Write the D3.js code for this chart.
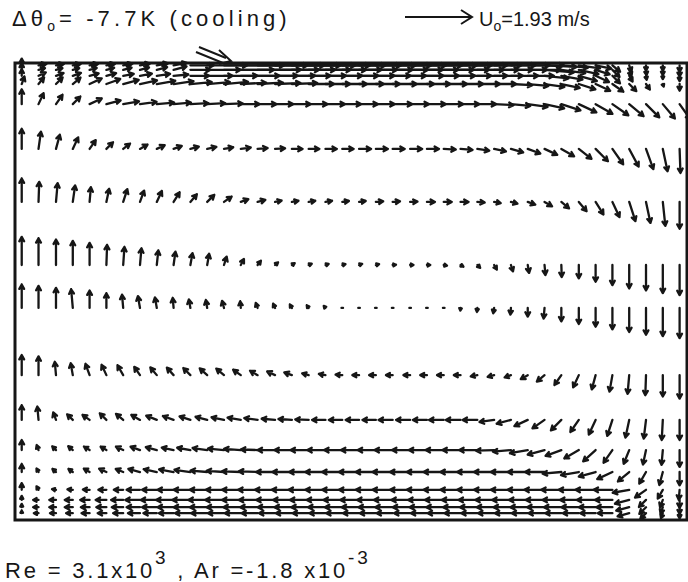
<!DOCTYPE html>
<html><head><meta charset="utf-8">
<script src="https://cdn.jsdelivr.net/npm/d3@7"></script>
<style>body{margin:0;background:#fff}svg{display:block}</style>
</head><body>
<svg id="c" width="688" height="582"></svg>
<script>
// ---- data (room coordinates: x/L from left wall, y/H from floor) ----
const U0 = 1.93; // m/s, reference arrow
const xNodes = [0.010,0.035,0.061,0.086,0.111,0.136,0.161,0.186,0.211,0.236,0.261,0.286,0.311,0.336,0.361,0.387,0.412,0.437,0.462,0.487,0.512,0.537,0.562,0.588,0.613,0.638,0.663,0.688,0.713,0.738,0.763,0.788,0.813,0.839,0.864,0.889,0.914,0.939,0.964,0.989];
const yNodes = [0.995,0.985,0.972,0.954,0.910,0.812,0.696,0.558,0.464,0.317,0.219,0.153,0.105,0.066,0.044,0.028,0.015];

// speed as fraction of U0, direction in degrees (0 = right, 90 = up)
const speed0 = [0.10,0.12,0.12,0.12,0.13,0.13,0.14,0.15,0.17,0.20,0.35,0.60,0.90,1.00,1.00,0.98,0.95,0.92,0.90,0.88,0.85,0.83,0.80,0.78,0.75,0.72,0.70,0.66,0.62,0.58,0.54,0.48,0.40,0.32,0.24,0.15,0.10,0.08,0.08,0.10];
const dir0   = [90,10,10,10,10,10,10,10,10,10,0,0,0,0,0,0,0,0,0,0,0,0,0,0,0,0,0,0,0,0,0,-3,-5,-8,-12,-40,-70,-90,-90,-90];
const speed1 = [0.10,0.10,0.10,0.10,0.11,0.12,0.13,0.14,0.16,0.20,0.30,0.50,0.75,0.90,0.92,0.90,0.88,0.86,0.84,0.82,0.80,0.78,0.75,0.72,0.70,0.68,0.65,0.62,0.58,0.54,0.50,0.44,0.36,0.30,0.22,0.15,0.10,0.08,0.08,0.10];
const dir1   = [90,15,15,15,15,15,15,15,15,15,0,0,0,0,0,0,0,0,0,0,0,0,0,0,0,0,0,0,0,0,0,-5,-8,-12,-18,-45,-70,-85,-90,-90];
const speed2 = [0.10,0.12,0.12,0.13,0.14,0.15,0.16,0.18,0.20,0.22,0.28,0.38,0.50,0.58,0.60,0.60,0.58,0.56,0.55,0.54,0.53,0.52,0.50,0.50,0.48,0.47,0.46,0.45,0.43,0.41,0.39,0.36,0.32,0.28,0.22,0.16,0.10,0.06,0.05,0.08];
const dir2   = [90,25,20,20,15,15,10,10,8,5,0,0,0,0,0,0,0,0,0,0,0,0,0,0,0,0,0,0,0,0,0,-6,-10,-16,-25,-45,-60,-80,-90,-90];
const speed3 = [0.12,0.13,0.14,0.15,0.20,0.22,0.24,0.26,0.28,0.30,0.32,0.34,0.36,0.38,0.38,0.38,0.38,0.38,0.37,0.37,0.37,0.36,0.36,0.36,0.35,0.35,0.34,0.34,0.33,0.32,0.31,0.30,0.28,0.26,0.24,0.20,0.15,0.10,0.04,0.10];
const dir3   = [70,50,45,40,25,20,15,12,10,8,5,5,5,3,3,2,2,0,0,0,0,0,0,0,0,0,0,0,0,-3,-5,-8,-12,-18,-25,-35,-45,-55,-70,-90];
const speed4 = [0.22,0.18,0.17,0.16,0.20,0.22,0.24,0.25,0.26,0.26,0.27,0.27,0.28,0.28,0.28,0.27,0.28,0.28,0.29,0.28,0.28,0.28,0.29,0.28,0.28,0.29,0.28,0.28,0.29,0.29,0.30,0.30,0.30,0.29,0.29,0.29,0.28,0.28,0.28,0.28];
const dir4   = [90,65,55,45,25,15,10,8,5,5,3,3,2,0,0,0,0,0,0,0,0,0,0,0,0,0,0,0,-3,-5,-8,-12,-18,-25,-30,-35,-40,-45,-50,-55];
const speed5 = [0.30,0.26,0.22,0.19,0.16,0.14,0.13,0.13,0.13,0.13,0.13,0.14,0.14,0.15,0.15,0.15,0.16,0.16,0.17,0.17,0.18,0.18,0.18,0.18,0.18,0.18,0.18,0.18,0.18,0.19,0.20,0.21,0.22,0.24,0.26,0.28,0.30,0.32,0.34,0.36];
const dir5   = [90,82,75,65,55,45,38,30,25,20,15,12,10,8,5,3,0,0,0,0,0,0,0,0,0,-3,-5,-8,-12,-16,-20,-25,-30,-38,-45,-55,-62,-70,-78,-88];
const speed6 = [0.35,0.30,0.28,0.25,0.22,0.20,0.20,0.18,0.18,0.17,0.15,0.15,0.14,0.12,0.12,0.10,0.10,0.10,0.10,0.10,0.10,0.11,0.11,0.11,0.12,0.12,0.12,0.11,0.10,0.10,0.12,0.13,0.15,0.18,0.22,0.25,0.30,0.32,0.36,0.40];
const dir6   = [90,88,85,82,85,78,72,70,65,58,50,45,35,20,15,12,10,10,10,8,8,5,5,3,0,0,0,-5,-10,-15,-20,-30,-40,-50,-58,-65,-72,-78,-84,-90];
const speed7 = [0.42,0.40,0.38,0.36,0.33,0.30,0.27,0.25,0.22,0.20,0.18,0.17,0.13,0.10,0.08,0.06,0.05,0.05,0.05,0.05,0.05,0.05,0.05,0.05,0.05,0.05,0.05,0.06,0.08,0.10,0.12,0.15,0.18,0.20,0.25,0.30,0.35,0.38,0.42,0.45];
const dir7   = [90,90,90,90,90,88,86,85,84,82,80,80,72,62,52,42,32,22,18,15,20,15,5,0,0,-10,-30,-45,-60,-72,-80,-85,-88,-90,-90,-90,-90,-90,-90,-90];
const speed8 = [0.35,0.33,0.30,0.28,0.26,0.22,0.20,0.18,0.16,0.15,0.13,0.12,0.11,0.10,0.08,0.07,0.06,0.05,0.04,0.03,0.02,0.02,0.02,0.02,0.02,0.03,0.04,0.06,0.08,0.10,0.13,0.16,0.20,0.24,0.28,0.32,0.36,0.40,0.42,0.45];
const dir8   = [90,90,90,95,90,90,95,100,100,95,100,100,105,95,110,115,120,125,130,140,180,0,0,0,180,-100,-95,-95,-100,-95,-90,-95,-90,-90,-90,-90,-90,-90,-90,-90];
const speed9 = [0.30,0.28,0.20,0.18,0.18,0.17,0.17,0.15,0.15,0.15,0.15,0.15,0.15,0.14,0.13,0.13,0.12,0.10,0.10,0.10,0.10,0.10,0.10,0.10,0.10,0.10,0.10,0.10,0.10,0.10,0.12,0.15,0.18,0.20,0.22,0.25,0.28,0.30,0.32,0.35];
const dir9   = [90,90,95,100,110,115,120,125,130,132,135,138,140,145,150,155,160,165,170,175,180,180,180,180,180,180,180,190,195,200,210,220,235,245,255,260,265,268,270,270];
const speed10 = [0.22,0.20,0.12,0.12,0.13,0.14,0.14,0.15,0.17,0.17,0.17,0.18,0.19,0.20,0.20,0.20,0.20,0.20,0.20,0.20,0.20,0.20,0.21,0.21,0.21,0.22,0.22,0.22,0.22,0.22,0.22,0.22,0.22,0.22,0.24,0.25,0.27,0.28,0.30,0.30];
const dir10   = [90,95,110,135,145,135,140,150,158,160,162,165,168,170,172,175,176,178,180,180,180,180,180,180,180,180,180,180,188,195,205,215,225,235,245,252,258,263,267,270];
const speed11 = [0.15,0.08,0.08,0.09,0.10,0.10,0.12,0.15,0.17,0.18,0.20,0.22,0.24,0.25,0.25,0.26,0.26,0.27,0.27,0.27,0.27,0.27,0.27,0.27,0.27,0.27,0.27,0.27,0.27,0.27,0.27,0.26,0.25,0.25,0.25,0.23,0.22,0.22,0.22,0.25];
const dir11   = [90,110,135,140,148,150,155,160,165,168,170,172,175,176,178,180,180,180,180,180,180,180,180,180,180,180,180,180,182,185,190,195,200,210,222,235,248,258,265,270];
const speed12 = [0.12,0.06,0.07,0.08,0.10,0.12,0.12,0.18,0.20,0.22,0.24,0.25,0.26,0.28,0.28,0.28,0.29,0.29,0.30,0.30,0.30,0.30,0.30,0.30,0.30,0.30,0.30,0.30,0.30,0.30,0.30,0.29,0.28,0.27,0.26,0.25,0.22,0.20,0.20,0.20];
const dir12   = [90,120,140,145,150,155,158,165,168,170,172,175,176,178,178,180,180,180,180,180,180,180,180,180,180,180,180,180,180,180,180,180,185,190,195,205,220,240,255,270];
const speed13 = [0.10,0.06,0.06,0.08,0.10,0.12,0.14,0.20,0.22,0.24,0.25,0.26,0.27,0.28,0.29,0.30,0.30,0.30,0.30,0.30,0.30,0.30,0.30,0.30,0.30,0.30,0.30,0.30,0.30,0.30,0.30,0.30,0.30,0.30,0.30,0.28,0.25,0.20,0.15,0.15];
const dir13   = [90,120,170,175,178,180,180,180,180,180,180,180,180,180,180,180,180,180,180,180,180,180,180,180,180,180,180,180,180,180,180,180,180,180,180,180,190,215,240,265];
const speed14 = [0.06,0.08,0.10,0.12,0.14,0.16,0.18,0.22,0.24,0.26,0.27,0.28,0.28,0.28,0.28,0.28,0.28,0.28,0.28,0.28,0.28,0.28,0.28,0.28,0.28,0.28,0.28,0.28,0.28,0.28,0.28,0.28,0.28,0.28,0.28,0.26,0.22,0.15,0.12,0.12];
const dir14   = [90,180,180,180,180,180,180,180,180,180,180,180,180,180,180,180,180,180,180,180,180,180,180,180,180,180,180,180,180,180,180,180,180,180,180,180,195,225,250,270];
const speed15 = [0.05,0.08,0.10,0.12,0.13,0.15,0.17,0.20,0.22,0.24,0.25,0.26,0.26,0.26,0.26,0.26,0.26,0.26,0.26,0.26,0.26,0.26,0.26,0.26,0.26,0.26,0.26,0.26,0.26,0.26,0.26,0.26,0.26,0.26,0.25,0.24,0.20,0.14,0.10,0.10];
const dir15   = [90,180,180,180,180,180,180,180,180,180,180,180,180,180,180,180,180,180,180,180,180,180,180,180,180,180,180,180,180,180,180,180,180,180,180,180,195,225,250,270];
const speed16 = [0.04,0.07,0.09,0.10,0.12,0.13,0.15,0.18,0.20,0.22,0.23,0.24,0.24,0.24,0.24,0.24,0.24,0.24,0.24,0.24,0.24,0.24,0.24,0.24,0.24,0.24,0.24,0.24,0.24,0.24,0.24,0.24,0.24,0.24,0.23,0.22,0.18,0.12,0.08,0.08];
const dir16   = [90,180,180,180,180,180,180,180,180,180,180,180,180,180,180,180,180,180,180,180,180,180,180,180,180,180,180,180,180,180,180,180,180,180,180,180,195,225,250,270];

const speedRows = [speed0,speed1,speed2,speed3,speed4,speed5,speed6,speed7,speed8,speed9,speed10,speed11,speed12,speed13,speed14,speed15,speed16];
const dirRows = [dir0,dir1,dir2,dir3,dir4,dir5,dir6,dir7,dir8,dir9,dir10,dir11,dir12,dir13,dir14,dir15,dir16];

// ---- drawing ----
const svg = d3.select("#c");
const ink = "#161616";
const box = {left: 15, right: 687, top: 63, bottom: 520};
const x = d3.scaleLinear().domain([0, 1]).range([box.left, box.right]);
const y = d3.scaleLinear().domain([0, 1]).range([box.bottom, box.top]);
const len = d3.scaleLinear().domain([0, 1]).range([0, 67]); // speed / U0 -> px

function arrowPath(x0, y0, s, deg) {
  const L = len(s);
  const a = deg * Math.PI / 180;
  const dx = Math.cos(a), dy = -Math.sin(a);
  const x1 = x0 + L * dx, y1 = y0 + L * dy;
  if (L < 2.5) return `M${x0-0.8},${y0}L${x0+0.8},${y0}`;
  const h = Math.min(5, 0.45 * L + 1.5), w = 0.5;
  const bx1 = x1 - h * (dx * Math.cos(w) - dy * Math.sin(w));
  const by1 = y1 - h * (dy * Math.cos(w) + dx * Math.sin(w));
  const bx2 = x1 - h * (dx * Math.cos(-w) - dy * Math.sin(-w));
  const by2 = y1 - h * (dy * Math.cos(-w) + dx * Math.sin(-w));
  return `M${x0},${y0}L${x1},${y1}M${bx1},${by1}L${x1},${y1}L${bx2},${by2}`;
}

const vectors = [];
yNodes.forEach((yv, r) => {
  xNodes.forEach((xv, c) => {
    vectors.push({x: xv, y: yv, s: speedRows[r][c], d: dirRows[r][c]});
  });
});

svg.append("g").selectAll("path").data(vectors).join("path")
  .attr("d", v => arrowPath(x(v.x), y(v.y), v.s, v.d))
  .attr("fill", "none").attr("stroke", ink).attr("stroke-width", 2.3)
  .attr("stroke-linecap", "round").attr("stroke-linejoin", "round");

// room frame
svg.append("rect").attr("x", box.left).attr("y", box.top)
  .attr("width", box.right - box.left).attr("height", box.bottom - box.top)
  .attr("fill", "none").attr("stroke", ink).attr("stroke-width", 3);

// inlet marker (double-line arrow into the room)
const inlet = svg.append("g").attr("stroke", ink).attr("stroke-width", 2).attr("fill", "none");
inlet.append("path").attr("d", "M199,47L226,58M196,52L223,63");
inlet.append("path").attr("d", "M219,50L231,61L219,64");

// title
const font = "'Liberation Sans', Arial, sans-serif";
const t = svg.append("text").attr("x", 12).attr("y", 26).attr("font-family", font)
  .attr("font-size", 22).attr("letter-spacing", 4.1).attr("fill", ink);
t.append("tspan").text("Δθ");
t.append("tspan").attr("font-size", 14).attr("dy", 5).text("o");
t.append("tspan").attr("dy", -5).text("= -7.7K (cooling)");

// legend arrow for U0
const lx = 405, ly = 17;
svg.append("path").attr("d", `M${lx},${ly}L${lx + len(1)},${ly}M${lx + len(1) - 11},${ly - 7}L${lx + len(1)},${ly}L${lx + len(1) - 11},${ly + 7}`)
  .attr("stroke", ink).attr("stroke-width", 2).attr("fill", "none");
const lt = svg.append("text").attr("x", lx + len(1) + 7).attr("y", 26).attr("font-family", font)
  .attr("font-size", 20).attr("letter-spacing", 0).attr("fill", ink);
lt.append("tspan").text("U");
lt.append("tspan").attr("font-size", 14).attr("dy", 5).text("o");
lt.append("tspan").attr("dy", -5).text("=1.93 m/s");

// parameters
const p = svg.append("text").attr("x", 5).attr("y", 578).attr("font-family", font)
  .attr("font-size", 22).attr("letter-spacing", 2.8).attr("fill", ink);
p.append("tspan").text("Re = 3.1x10");
p.append("tspan").attr("font-size", 19).attr("dy", -14).text("3");
p.append("tspan").attr("dy", 14).text(" ,  Ar =-1.8 x10");
p.append("tspan").attr("font-size", 19).attr("dy", -14).text("-3");
</script>
</body></html>
